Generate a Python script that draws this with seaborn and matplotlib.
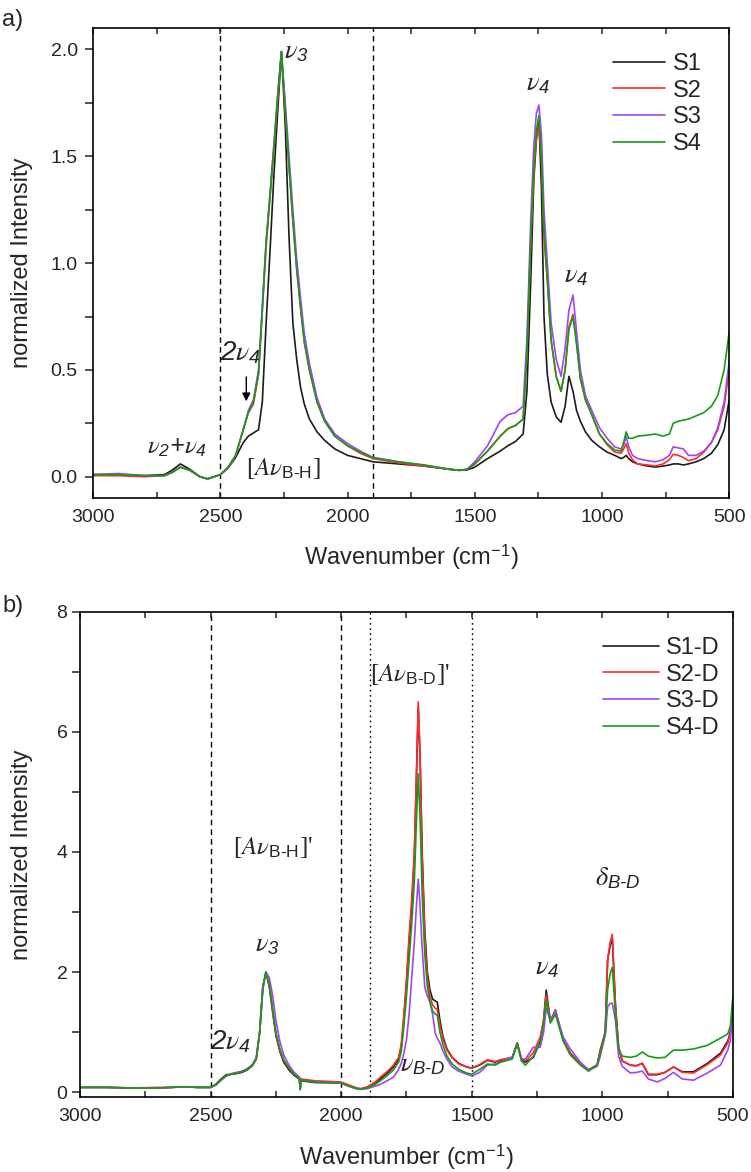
import numpy as np
import pandas as pd
import matplotlib
matplotlib.use('Agg')
import matplotlib.pyplot as plt
import seaborn as sns

# wavenumber grid of panel a) and the four spectra
wn_a = [3000, 2900, 2800, 2720, 2690, 2657, 2620, 2580, 2550, 2500,
        2470, 2440, 2410, 2390, 2370, 2350, 2335, 2320, 2305, 2290,
        2275, 2260, 2245, 2230, 2215, 2200, 2185, 2170, 2150, 2120,
        2090, 2050, 2000, 1950, 1900, 1800, 1700, 1600, 1560, 1530,
        1500, 1450, 1400, 1370, 1340, 1310, 1295, 1280, 1268, 1258,
        1248, 1238, 1228, 1215, 1200, 1180, 1161, 1145, 1130, 1114,
        1100, 1085, 1065, 1040, 1010, 980, 950, 925, 915, 905,
        895, 880, 860, 820, 790, 760, 735, 720, 700, 680,
        660, 630, 600, 570, 545, 520, 500]

s1 = [0.01, 0.01, 0.005, 0.01, 0.03, 0.06, 0.035, 0.0, -0.01, 0.01,
      0.04, 0.09, 0.16, 0.19, 0.205, 0.22, 0.35, 0.72, 1.05, 1.40,
      1.70, 1.99, 1.65, 1.12, 0.72, 0.55, 0.42, 0.34, 0.27, 0.21,
      0.17, 0.13, 0.10, 0.085, 0.07, 0.06, 0.05, 0.035, 0.03, 0.032,
      0.045, 0.085, 0.12, 0.145, 0.165, 0.20, 0.40, 0.92, 1.39, 1.58,
      1.67, 1.35, 0.75, 0.48, 0.35, 0.28, 0.255, 0.33, 0.47, 0.40,
      0.31, 0.26, 0.21, 0.17, 0.14, 0.115, 0.10, 0.085, 0.09, 0.10,
      0.085, 0.07, 0.06, 0.05, 0.045, 0.05, 0.055, 0.06, 0.06, 0.055,
      0.06, 0.07, 0.085, 0.11, 0.15, 0.22, 0.36]

s2 = [0.005, 0.005, 0.0, 0.005, 0.02, 0.045, 0.03, 0.0, -0.01, 0.01,
      0.04, 0.10, 0.22, 0.30, 0.34, 0.48, 0.78, 1.08, 1.30, 1.52,
      1.76, 1.99, 1.72, 1.45, 1.20, 0.98, 0.80, 0.63, 0.50, 0.35,
      0.26, 0.19, 0.145, 0.11, 0.085, 0.065, 0.05, 0.035, 0.03, 0.035,
      0.06, 0.12, 0.19, 0.225, 0.24, 0.27, 0.58, 1.10, 1.42, 1.58,
      1.64, 1.48, 1.12, 0.92, 0.64, 0.47, 0.40, 0.50, 0.70, 0.76,
      0.63, 0.46, 0.36, 0.29, 0.20, 0.15, 0.115, 0.11, 0.13, 0.155,
      0.11, 0.08, 0.06, 0.055, 0.05, 0.06, 0.08, 0.105, 0.10, 0.09,
      0.075, 0.085, 0.115, 0.16, 0.22, 0.33, 0.50]

s3 = [0.01, 0.015, 0.005, 0.005, 0.02, 0.045, 0.03, 0.0, -0.01, 0.01,
      0.04, 0.10, 0.22, 0.31, 0.36, 0.50, 0.80, 1.10, 1.32, 1.55,
      1.78, 1.99, 1.75, 1.50, 1.25, 1.02, 0.84, 0.67, 0.53, 0.37,
      0.27, 0.20, 0.155, 0.12, 0.09, 0.07, 0.055, 0.035, 0.03, 0.035,
      0.07, 0.145, 0.26, 0.29, 0.30, 0.33, 0.65, 1.20, 1.55, 1.70,
      1.74, 1.60, 1.25, 1.00, 0.72, 0.55, 0.47, 0.60, 0.78, 0.85,
      0.68, 0.50, 0.38, 0.31, 0.23, 0.18, 0.14, 0.13, 0.15, 0.19,
      0.14, 0.10, 0.085, 0.075, 0.07, 0.08, 0.10, 0.14, 0.135, 0.13,
      0.10, 0.10, 0.12, 0.16, 0.23, 0.35, 0.54]

s4 = [0.01, 0.01, 0.005, 0.005, 0.02, 0.045, 0.03, 0.0, -0.01, 0.01,
      0.045, 0.10, 0.22, 0.30, 0.35, 0.48, 0.78, 1.10, 1.32, 1.54,
      1.78, 1.99, 1.72, 1.45, 1.20, 0.97, 0.79, 0.63, 0.50, 0.35,
      0.26, 0.19, 0.145, 0.115, 0.09, 0.07, 0.055, 0.035, 0.03, 0.035,
      0.06, 0.12, 0.19, 0.225, 0.24, 0.27, 0.58, 1.12, 1.45, 1.62,
      1.69, 1.50, 1.15, 0.93, 0.64, 0.47, 0.40, 0.50, 0.69, 0.75,
      0.62, 0.46, 0.36, 0.29, 0.20, 0.155, 0.125, 0.12, 0.16, 0.21,
      0.18, 0.18, 0.19, 0.195, 0.20, 0.19, 0.20, 0.25, 0.26, 0.265,
      0.27, 0.285, 0.30, 0.33, 0.38, 0.50, 0.68]

# panel b) deuterated samples
wn_b = [3000, 2900, 2800, 2700, 2650, 2600, 2550, 2500, 2480, 2460,
        2440, 2420, 2400, 2380, 2360, 2340, 2325, 2312, 2300, 2288,
        2275, 2262, 2250, 2235, 2220, 2200, 2180, 2160, 2157, 2154,
        2100, 2050, 2000, 1970, 1940, 1925, 1900, 1870, 1850, 1820,
        1800, 1780, 1770, 1760, 1750, 1740, 1730, 1720, 1712, 1705,
        1698, 1690, 1680, 1670, 1660, 1650, 1640, 1632, 1622, 1610,
        1595, 1575, 1550, 1520, 1500, 1470, 1440, 1410, 1390, 1345,
        1326, 1310, 1295, 1264, 1238, 1225, 1215, 1199, 1180, 1150,
        1123, 1084, 1053, 1020, 1008, 989, 980, 970, 962, 950,
        938, 924, 893, 870, 847, 824, 790, 760, 728, 694,
        651, 598, 548, 520, 510, 500]

s1d = [0.08, 0.08, 0.07, 0.07, 0.08, 0.09, 0.08, 0.08, 0.13, 0.22,
       0.29, 0.30, 0.31, 0.33, 0.37, 0.44, 0.55, 1.0, 1.75, 2.0,
       1.75, 1.32, 0.95, 0.68, 0.50, 0.37, 0.28, 0.22, 0.05, 0.19,
       0.16, 0.16, 0.15, 0.10, 0.06, 0.05, 0.08, 0.15, 0.22, 0.33,
       0.42, 0.55, 0.75, 1.2, 1.8, 2.5, 3.1, 3.9, 5.2, 6.4,
       5.6, 4.0, 2.7, 2.0, 1.7, 1.55, 1.52, 1.5, 1.2, 0.92,
       0.72, 0.58, 0.48, 0.42, 0.40, 0.45, 0.53, 0.50, 0.53, 0.58,
       0.82, 0.55, 0.50, 0.58, 0.85, 1.2, 1.70, 1.18, 1.37, 0.87,
       0.65, 0.48, 0.37, 0.45, 0.68, 1.0, 2.2, 2.45, 2.55, 1.45,
       0.75, 0.52, 0.45, 0.44, 0.48, 0.29, 0.29, 0.33, 0.42, 0.34,
       0.34, 0.48, 0.65, 0.85, 1.0, 1.5]

s2d = [0.08, 0.08, 0.07, 0.08, 0.08, 0.09, 0.08, 0.08, 0.12, 0.20,
       0.27, 0.30, 0.32, 0.34, 0.38, 0.45, 0.55, 1.0, 1.75, 2.0,
       1.78, 1.35, 0.98, 0.70, 0.53, 0.40, 0.30, 0.25, 0.06, 0.22,
       0.19, 0.18, 0.17, 0.12, 0.07, 0.06, 0.09, 0.17, 0.25, 0.36,
       0.45, 0.58, 0.80, 1.3, 1.9, 2.6, 3.2, 4.0, 5.3, 6.5,
       5.6, 3.9, 2.6, 1.9, 1.6, 1.45, 1.4, 1.38, 1.12, 0.88,
       0.70, 0.57, 0.47, 0.42, 0.40, 0.46, 0.54, 0.51, 0.54, 0.58,
       0.82, 0.57, 0.52, 0.66, 0.92, 1.2, 1.62, 1.18, 1.36, 0.87,
       0.65, 0.48, 0.37, 0.46, 0.72, 1.0, 2.2, 2.5, 2.63, 1.45,
       0.75, 0.52, 0.45, 0.44, 0.48, 0.30, 0.30, 0.33, 0.42, 0.33,
       0.32, 0.46, 0.62, 0.82, 0.98, 1.45]

s3d = [0.08, 0.08, 0.07, 0.07, 0.08, 0.09, 0.08, 0.08, 0.12, 0.20,
       0.27, 0.31, 0.33, 0.35, 0.39, 0.46, 0.58, 1.0, 1.7, 2.0,
       1.9, 1.6, 1.2, 0.85, 0.62, 0.45, 0.33, 0.25, 0.06, 0.20,
       0.17, 0.16, 0.15, 0.10, 0.06, 0.05, 0.06, 0.10, 0.13, 0.20,
       0.25, 0.38, 0.48, 0.65, 0.87, 1.3, 1.9, 2.5, 3.1, 3.55,
       3.1, 2.4, 1.75, 1.6, 1.5, 1.3, 0.98, 0.9, 0.82, 0.68,
       0.55, 0.42, 0.35, 0.30, 0.27, 0.33, 0.45, 0.47, 0.50, 0.58,
       0.80, 0.55, 0.55, 0.75, 0.75, 1.0, 1.40, 1.2, 1.35, 0.92,
       0.72, 0.50, 0.37, 0.43, 0.6, 0.95, 1.42, 1.48, 1.48, 1.2,
       0.6, 0.43, 0.32, 0.33, 0.35, 0.22, 0.17, 0.23, 0.33, 0.22,
       0.2, 0.32, 0.45, 0.7, 0.87, 1.42]

s4d = [0.08, 0.08, 0.07, 0.07, 0.08, 0.09, 0.08, 0.08, 0.12, 0.21,
       0.28, 0.30, 0.32, 0.34, 0.38, 0.45, 0.56, 1.0, 1.75, 2.0,
       1.8, 1.38, 1.0, 0.72, 0.54, 0.40, 0.30, 0.23, 0.04, 0.20,
       0.17, 0.16, 0.15, 0.10, 0.06, 0.05, 0.07, 0.13, 0.19, 0.29,
       0.37, 0.50, 0.68, 1.1, 1.6, 2.2, 2.8, 3.5, 4.5, 5.3,
       4.6, 3.3, 2.3, 1.75, 1.5, 1.35, 1.3, 1.28, 1.0, 0.78,
       0.6, 0.47, 0.38, 0.32, 0.30, 0.38, 0.47, 0.45, 0.50, 0.55,
       0.80, 0.52, 0.45, 0.60, 0.82, 1.15, 1.53, 1.15, 1.30, 0.85,
       0.62, 0.45, 0.35, 0.45, 0.68, 0.98, 1.7, 1.98, 2.08, 1.3,
       0.72, 0.6, 0.58, 0.6, 0.67, 0.6, 0.57, 0.58, 0.7, 0.7,
       0.72, 0.78, 0.9, 0.97, 1.1, 1.6]

labels_a = ['S1', 'S2', 'S3', 'S4']
labels_b = ['S1-D', 'S2-D', 'S3-D', 'S4-D']
colors = ['#1c1c1c', '#ff2b2b', '#a045f5', '#169c16']

# long form tables for seaborn
df_a = pd.concat([pd.DataFrame({'wn': wn_a, 'I': s, 'sample': n})
                  for s, n in zip([s1, s2, s3, s4], labels_a)])
df_b = pd.concat([pd.DataFrame({'wn': wn_b, 'I': s, 'sample': n})
                  for s, n in zip([s1d, s2d, s3d, s4d], labels_b)])

sns.set_theme(style='ticks')
plt.rcParams['font.family'] = ['Liberation Sans', 'DejaVu Sans']
plt.rcParams['mathtext.fontset'] = 'custom'
plt.rcParams['mathtext.rm'] = 'Liberation Sans'
plt.rcParams['mathtext.it'] = 'STIXGeneral:italic'
plt.rcParams['mathtext.sf'] = 'Liberation Sans:italic'

fig = plt.figure(figsize=(7.51, 11.72), dpi=100)
ax_a = fig.add_axes([0.124, 0.575, 0.847, 0.401])
ax_b = fig.add_axes([0.1065, 0.064, 0.8695, 0.414])

sns.lineplot(data=df_a, x='wn', y='I', hue='sample', palette=colors,
             estimator=None, sort=False, linewidth=1.2, ax=ax_a)
sns.lineplot(data=df_b, x='wn', y='I', hue='sample', palette=colors,
             estimator=None, sort=False, linewidth=1.2, ax=ax_b)


def style_axes(ax, ylim, ymajor, ylen, ypad):
    ax.set_xlim(3000, 500)
    ax.set_ylim(*ylim)
    ax.set_xticks([3000, 2500, 2000, 1500, 1000, 500])
    ax.set_xticks(np.arange(2750, 500, -500), minor=True)
    ax.set_yticks(ymajor)
    ax.set_yticks(np.arange(ymajor[0], ymajor[-1] + 1e-9, (ymajor[1] - ymajor[0]) / 2), minor=True)
    ax.tick_params(axis='x', which='both', direction='in', top=True, bottom=True,
                   length=4, width=1.1, labelsize=14, pad=8)
    ax.tick_params(axis='y', which='both', direction='out', left=True, right=False,
                   length=ylen, width=1.1, labelsize=14, pad=ypad)
    for sp in ax.spines.values():
        sp.set_visible(True)
        sp.set_linewidth(1.2)
        sp.set_color('black')
    ax.set_xlabel('Wavenumber (cm$^{-1}$)', fontsize=17)
    ax.set_ylabel('normalized Intensity', fontsize=17)


style_axes(ax_a, (-0.1, 2.1), [0.0, 0.5, 1.0, 1.5, 2.0], 6, 5)
ax_a.yaxis.set_major_formatter(matplotlib.ticker.FormatStrFormatter('%.1f'))
ax_a.yaxis.set_label_coords(-0.094, 0.5)
ax_a.xaxis.set_label_coords(0.5, -0.094)
style_axes(ax_b, (-0.08, 8), [0, 2, 4, 6, 8], 6, 3)
ax_b.yaxis.set_label_coords(-0.072, 0.5)
ax_b.xaxis.set_label_coords(0.5, -0.093)

# region markers
for x in [2500, 1900]:
    ax_a.axvline(x, color='black', lw=1.0, ls=(0, (4, 3)), zorder=0)
for x in [2500, 2000]:
    ax_b.axvline(x, color='black', lw=1.0, ls=(0, (4, 3)), zorder=0)
for x in [1890, 1500]:
    ax_b.axvline(x, color='black', lw=1.0, ls=(0, (1.2, 2.5)), zorder=0)

# legends
h, l = ax_a.get_legend_handles_labels()
ax_a.legend(h, l, loc='upper left', bbox_to_anchor=(0.818, 0.947), frameon=False,
            fontsize=17, handlelength=2.2, handletextpad=0.3, labelspacing=0.2,
            borderpad=0, borderaxespad=0)
h, l = ax_b.get_legend_handles_labels()
ax_b.legend(h, l, loc='upper left', bbox_to_anchor=(0.801, 0.948), frameon=False,
            fontsize=17, handlelength=2.35, handletextpad=0.3, labelspacing=0.2,
            borderpad=0, borderaxespad=0)

# band assignments, panel a
ax_a.text(2200, 1.99, r'$\nu_{\mathsf{3}}$', fontsize=19, ha='center', va='center')
ax_a.text(1252, 1.84, r'$\nu_{\mathsf{4}}$', fontsize=19, ha='center', va='center')
ax_a.text(1102, 0.94, r'$\nu_{\mathsf{4}}$', fontsize=19, ha='center', va='center')
ax_a.text(2421, 0.58, r'$\mathsf{2}\nu_{\mathsf{4}}$', fontsize=20, ha='center', va='center')
ax_a.annotate('', xy=(2398, 0.34), xytext=(2398, 0.48),
              arrowprops=dict(arrowstyle='-|>', color='black', lw=1.0, mutation_scale=12))
ax_a.text(2669, 0.14, r'$\nu_{\mathsf{2}}\mathsf{+}\nu_{\mathsf{4}}$', fontsize=18,
          ha='center', va='center')
ax_a.text(2252, 0.04, '[$A\\nu_{\\mathrm{B‐H}}$]', fontsize=18, ha='center', va='center',
          family='Liberation Serif')

# band assignments, panel b
ax_b.text(2284, 2.45, r'$\nu_{\mathsf{3}}$', fontsize=19, ha='center', va='center')
ax_b.text(2425, 0.83, r'$\mathsf{2}\nu_{\mathsf{4}}$', fontsize=20, ha='center', va='center')
ax_b.text(2260, 4.07, "[$A\\nu_{\\mathrm{B‐H}}$]'", fontsize=18, ha='center', va='center',
          family='Liberation Serif')
ax_b.text(1736, 6.95, "[$A\\nu_{\\mathrm{B‐D}}$]'", fontsize=18, ha='center', va='center',
          family='Liberation Serif')
ax_b.text(1686, 0.45, r'$\nu_{\mathsf{B‐D}}$', fontsize=19, ha='center', va='center')
ax_b.text(1211, 2.07, r'$\nu_{\mathsf{4}}$', fontsize=19, ha='center', va='center')
ax_b.text(942, 3.57, r'$\delta_{\mathsf{B‐D}}$', fontsize=19, ha='center', va='center')

fig.text(0.003, 0.992, 'a)', fontsize=17, ha='left', va='top')
fig.text(0.003, 0.492, 'b)', fontsize=17, ha='left', va='top')

fig.savefig('out.png', dpi=100)
